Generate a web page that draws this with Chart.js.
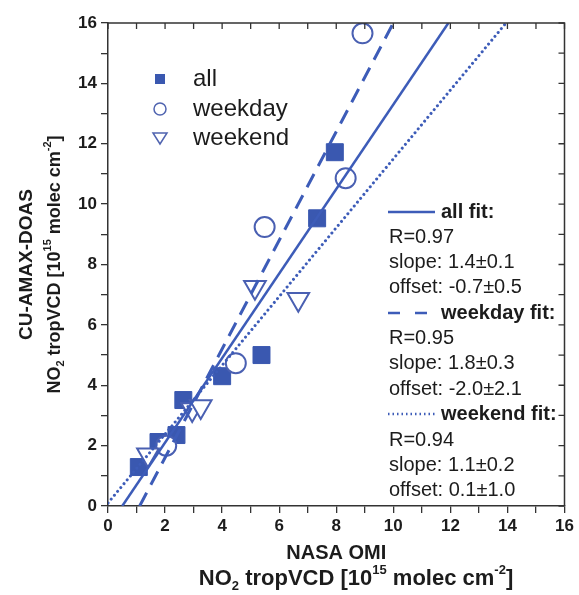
<!DOCTYPE html>
<html>
<head>
<meta charset="utf-8">
<script src="https://cdn.jsdelivr.net/npm/chart.js@4.4.1/dist/chart.umd.min.js"></script>
<style>
html, body { margin: 0; padding: 0; background: #fff; }
#wrap { width: 579px; height: 595px; }
</style>
</head>
<body>
<div id="wrap"><canvas id="chart" width="579" height="595"></canvas></div>
<script>
// measured points (10^15 molec cm-2)
var allX     = [1.08, 1.77, 2.40, 2.64, 4.00, 5.38, 7.33, 7.95];
var allY     = [1.29, 2.12, 2.35, 3.51, 4.30, 5.00, 9.53, 11.72];
var weekdayX = [2.04, 4.48, 5.49, 8.33, 8.92];
var weekdayY = [2.00, 4.73, 9.24, 10.86, 15.66];
var weekendX = [1.40, 2.95, 3.25, 5.15, 6.67];
var weekendY = [1.70, 3.20, 3.30, 7.25, 6.85];

// fit lines, end points
var allFitX     = [0.50, 11.93];
var allFitY     = [0, 16];
var weekdayFitX = [1.11, 10.0];
var weekdayFitY = [0, 16];
var weekendFitX = [0, 13.95];
var weekendFitY = [0.1, 16];

var legendLabels = ["all", "weekday", "weekend"];
var fitLabels = [
    {name: "all fit:",     lines: ["R=0.97", "slope: 1.4\u00b10.1", "offset: -0.7\u00b10.5"]},
    {name: "weekday fit:", lines: ["R=0.95", "slope: 1.8\u00b10.3", "offset: -2.0\u00b12.1"]},
    {name: "weekend fit:", lines: ["R=0.94", "slope: 1.1\u00b10.2", "offset: 0.1\u00b11.0"]}
];

var blue = "#3a58b0";
var lineBlue = "#3d5cb8";
var txt = "#1c1c1c";
var FONT = "'Liberation Sans', Arial, sans-serif";

function toPoints(xs, ys) {
    var out = [];
    for (var i = 0; i < xs.length; i++) out.push({x: xs[i], y: ys[i]});
    return out;
}

function evenLabel(v) {
    return (v % 2 === 0) ? v : "";
}

// text with sub/superscript parts
var titleParts = [
    {t: "NO"}, {t: "2", sub: true}, {t: " tropVCD [10"}, {t: "15", sup: true},
    {t: " molec cm"}, {t: "-2", sup: true}, {t: "]"}
];

function drawRich(ctx, parts, cx, cy, size) {
    var small = Math.round(size * 0.6);
    var w = 0;
    parts.forEach(function (p) {
        ctx.font = "bold " + (p.sub || p.sup ? small : size) + "px " + FONT;
        p.w = ctx.measureText(p.t).width;
        w += p.w;
    });
    var x = cx - w / 2;
    ctx.textBaseline = "middle";
    ctx.textAlign = "left";
    parts.forEach(function (p) {
        ctx.font = "bold " + (p.sub || p.sup ? small : size) + "px " + FONT;
        var dy = p.sub ? size * 0.35 : (p.sup ? -size * 0.38 : 0);
        ctx.fillText(p.t, x, cy + dy);
        x += p.w;
    });
}

var framePlugin = {
    id: "frame",
    afterDatasetsDraw: function (chart) {
        var ctx = chart.ctx, a = chart.chartArea;
        var xs = chart.scales.x, ys = chart.scales.y;
        ctx.save();
        ctx.strokeStyle = "#333";
        ctx.lineWidth = 1.5;
        ctx.beginPath();
        ctx.moveTo(a.left, a.top);
        ctx.lineTo(a.right, a.top);
        ctx.lineTo(a.right, a.bottom);
        ctx.stroke();
        ctx.lineWidth = 1.3;
        ctx.beginPath();
        xs.ticks.forEach(function (t) {
            var px = xs.getPixelForValue(t.value);
            ctx.moveTo(px, a.top);
            ctx.lineTo(px, a.top + 6);
        });
        ys.ticks.forEach(function (t) {
            var py = ys.getPixelForValue(t.value);
            ctx.moveTo(a.right, py);
            ctx.lineTo(a.right - 6, py);
        });
        ctx.stroke();
        ctx.restore();
    },
    afterDraw: function (chart) {
        var ctx = chart.ctx, a = chart.chartArea;
        ctx.save();
        ctx.fillStyle = txt;

        // axis titles
        ctx.font = "bold 20px " + FONT;
        ctx.textAlign = "center";
        ctx.textBaseline = "middle";
        var cx = (a.left + a.right) / 2;
        ctx.fillText("NASA OMI", cx, 553);
        drawRich(ctx, titleParts, 356, 579, 22);

        var cy = (a.top + a.bottom) / 2;
        ctx.save();
        ctx.translate(27, cy);
        ctx.rotate(-Math.PI / 2);
        ctx.font = "bold 19px " + FONT;
        ctx.textAlign = "center";
        ctx.fillText("CU-AMAX-DOAS", 0, 0);
        drawRich(ctx, titleParts, 0, 28, 18);
        ctx.restore();

        // marker legend, top left
        var ly = [79, 109, 138];
        ctx.font = "24px " + FONT;
        ctx.textAlign = "left";
        ctx.textBaseline = "middle";
        legendLabels.forEach(function (s, i) {
            ctx.fillText(s, 193, ly[i]);
        });
        ctx.fillStyle = blue;
        ctx.fillRect(155, ly[0] - 5, 10, 10);
        ctx.strokeStyle = "#5064b0";
        ctx.lineWidth = 1.5;
        ctx.beginPath();
        ctx.arc(160, ly[1], 6, 0, Math.PI * 2);
        ctx.stroke();
        ctx.beginPath();
        ctx.moveTo(153, ly[2] - 5);
        ctx.lineTo(167, ly[2] - 5);
        ctx.lineTo(160, ly[2] + 6);
        ctx.closePath();
        ctx.stroke();

        // fit legend, right
        var rows = [212, 237, 262, 287, 313, 338, 363, 389, 414, 440, 465, 490];
        var dashes = [[], [12, 15], [1.5, 3]];
        var r = 0;
        fitLabels.forEach(function (f, i) {
            ctx.strokeStyle = lineBlue;
            ctx.lineWidth = 2.5;
            ctx.setLineDash(dashes[i]);
            ctx.beginPath();
            ctx.moveTo(388, rows[r]);
            ctx.lineTo(435, rows[r]);
            ctx.stroke();
            ctx.setLineDash([]);
            ctx.fillStyle = txt;
            ctx.font = "bold 20px " + FONT;
            ctx.fillText(f.name, 441, rows[r]);
            r++;
            ctx.font = "20px " + FONT;
            f.lines.forEach(function (s) {
                ctx.fillText(s, 389, rows[r]);
                r++;
            });
        });
        ctx.restore();
    }
};

var axisCommon = {
    type: "linear",
    min: 0,
    max: 16,
    ticks: {
        stepSize: 1,
        autoSkip: false,
        color: txt,
        font: {family: FONT, size: 17, weight: "bold"},
        callback: evenLabel
    },
    grid: {
        drawOnChartArea: false,
        drawTicks: true,
        tickLength: 7,
        tickColor: "#333",
        lineWidth: 1.3
    },
    border: {display: true, color: "#333", width: 1.5}
};

var config = {
    type: "scatter",
    data: {
        datasets: [
            {
                type: "line", label: "all fit", data: toPoints(allFitX, allFitY),
                borderColor: lineBlue, borderWidth: 2.5, pointRadius: 0, fill: false
            },
            {
                type: "line", label: "weekday fit", data: toPoints(weekdayFitX, weekdayFitY),
                borderColor: lineBlue, borderWidth: 3, borderDash: [15, 9], pointRadius: 0, fill: false
            },
            {
                type: "line", label: "weekend fit", data: toPoints(weekendFitX, weekendFitY),
                borderColor: lineBlue, borderWidth: 3, borderDash: [0.01, 5], borderCapStyle: "round",
                pointRadius: 0, fill: false
            },
            {
                label: "weekend", data: toPoints(weekendX, weekendY),
                pointStyle: "triangle", rotation: 180, pointRadius: 12.5,
                backgroundColor: "#fff", borderColor: "#4a60b2", borderWidth: 2
            },
            {
                label: "weekday", data: toPoints(weekdayX, weekdayY),
                pointStyle: "circle", pointRadius: 10,
                backgroundColor: "#fff", borderColor: "#4a60b2", borderWidth: 2
            },
            {
                label: "all", data: toPoints(allX, allY),
                pointStyle: "rect", pointRadius: 12,
                backgroundColor: blue, borderColor: blue, borderWidth: 1
            }
        ]
    },
    options: {
        responsive: false,
        animation: false,
        layout: {padding: {top: 23, right: 11, left: 0, bottom: 0}},
        plugins: {
            legend: {display: false},
            tooltip: {enabled: false}
        },
        scales: {
            x: Object.assign({}, axisCommon, {
                position: "bottom",
                ticks: Object.assign({}, axisCommon.ticks, {padding: 3, maxRotation: 0}),
                afterFit: function (s) { s.height = 89; }
            }),
            y: Object.assign({}, axisCommon, {
                position: "left",
                ticks: Object.assign({}, axisCommon.ticks, {padding: 4}),
                afterFit: function (s) { s.width = 108; }
            })
        }
    },
    plugins: [framePlugin]
};

var ctx = document.getElementById("chart").getContext("2d");
window.myChart = new Chart(ctx, config);
</script>
</body>
</html>
